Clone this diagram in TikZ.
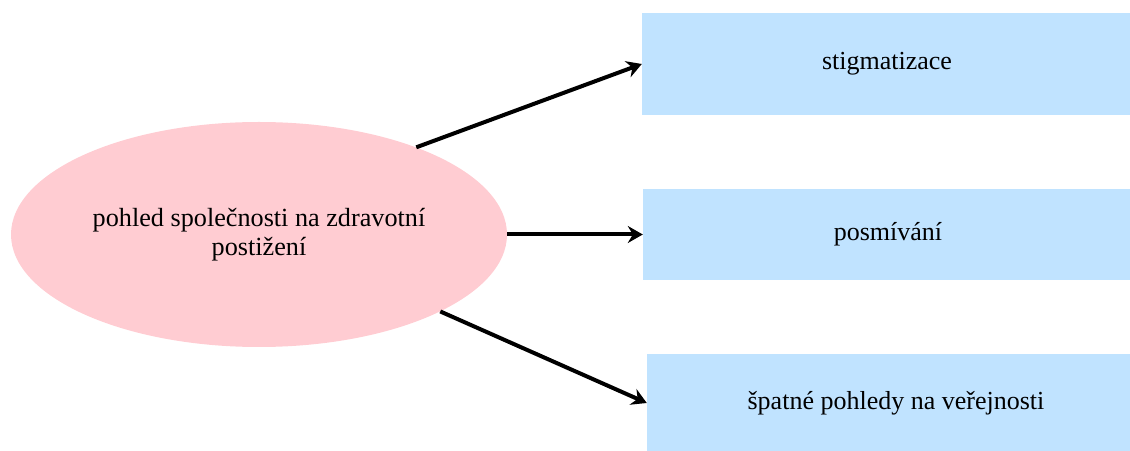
\documentclass[tikz,border=0pt]{standalone}
\usepackage{fontspec}
\setmainfont{Liberation Serif}
\usetikzlibrary{shapes.geometric,arrows.meta}
\definecolor{pinkfill}{RGB}{255,204,210}
\definecolor{bluefill}{RGB}{192,227,255}
\tikzset{
  mainellipse/.style={ellipse, fill=pinkfill, draw=none, minimum width=496pt, minimum height=225pt, inner sep=0pt, align=center, font=\rmfamily\fontsize{26.2}{28.5}\selectfont},
  itembox/.style={rectangle, fill=bluefill, draw=none, inner sep=0pt, font=\rmfamily\fontsize{26}{28.5}\selectfont},
  conn/.style={line width=4pt, -{Stealth[length=15pt,width=17pt,inset=5pt]}}
}
\begin{document}
\begin{tikzpicture}[x=1pt,y=1pt]
\useasboundingbox (0,0) rectangle (1130,450);
\begin{scope}
\clip (0,0) rectangle (1130,450);
\node[mainellipse] (e) at (259,215.5) {pohled společnosti na zdravotní\\postižení};
\node[itembox, minimum width=490pt, minimum height=102pt] (b1) at (887,386) {stigmatizace};
\node[itembox, minimum width=490pt, minimum height=91pt] (b2) at (888,215.5) {posmívání};
\node[itembox, minimum width=498pt, minimum height=98pt] (b3) at (896,47) {špatné pohledy na veřejnosti};
\end{scope}
\draw[conn] (e.29.3) -- (b1.west);
\draw[conn] (e.east) -- (b2.west);
\draw[conn] (e.-23.7) -- (b3.west);
\end{tikzpicture}
\end{document}
